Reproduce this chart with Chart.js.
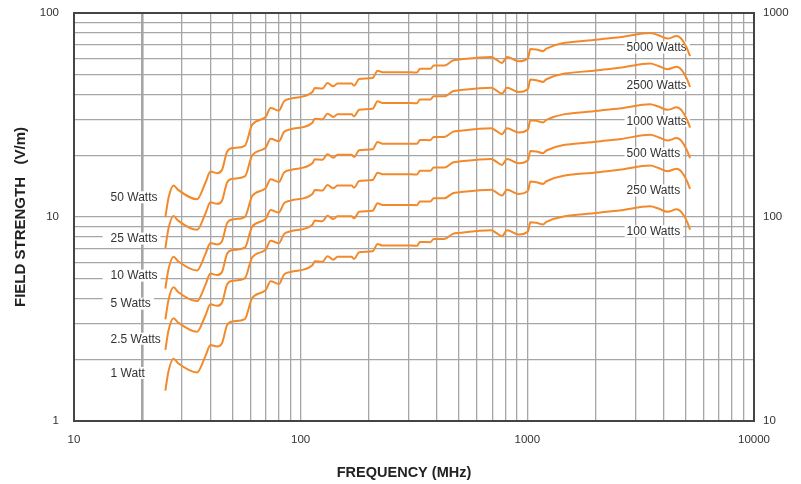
<!DOCTYPE html>
<html>
<head>
<meta charset="utf-8">
<script src="https://cdn.jsdelivr.net/npm/chart.js@4.4.1/dist/chart.umd.min.js"></script>
<style>
  html, body { margin: 0; padding: 0; background: #fff; }
  #wrap { width: 801px; height: 484px; }
</style>
</head>
<body>
<div id="wrap"><canvas id="fieldchart" width="801" height="484"></canvas></div>
<script>
// frequency points (MHz), shared by all curves
const freqMHz = [25.3, 26.1, 27.5, 28.8, 34.9, 38, 40, 42.8, 45, 47.4, 50.2, 56.7, 61.1, 70, 73.7, 80.2, 84.4, 90.3,
  112.7, 115.3, 124.8, 131.3, 139.5, 145.3, 167.6, 172.1, 181.1, 207.7, 218.5, 229.9, 306.6, 326, 336, 373.3, 386.5,
  430.6, 469.2, 501.7, 693, 729, 772.7, 813.5, 915.3, 1007, 1031, 1096, 1173, 1214, 2055, 2605, 3477, 3787, 4151,
  4563, 4802, 5052, 5225];

// field strength in V/m (left axis)
const field1W = [1.41, 1.75, 2.02, 1.92, 1.73, 2.08, 2.36, 2.32, 2.41, 2.96, 3.08, 3.16, 4.01, 4.37, 4.84, 4.70, 5.22, 5.38,
  5.80, 6.07, 6.03, 6.42, 6.18, 6.38, 6.38, 6.23, 6.71, 6.79, 7.38, 7.24, 7.24, 7.22, 7.54, 7.53, 7.81,
  7.81, 8.27, 8.36, 8.61, 8.36, 8.05, 8.61, 8.20, 8.51, 9.43, 9.36, 9.19, 9.47, 10.49, 10.8, 11.3, 11.0, 10.6,
  10.9, 10.5, 9.54, 8.68];
const field2_5W = [2.23, 2.77, 3.19, 3.04, 2.74, 3.29, 3.73, 3.67, 3.81, 4.68, 4.87, 5.00, 6.34, 6.91, 7.65, 7.43, 8.25, 8.51,
  9.17, 9.60, 9.53, 10.15, 9.77, 10.09, 10.09, 9.85, 10.61, 10.74, 11.67, 11.45, 11.45, 11.42, 11.92, 11.91, 12.35,
  12.35, 13.08, 13.22, 13.61, 13.22, 12.73, 13.61, 12.97, 13.46, 14.91, 14.80, 14.53, 14.97, 16.59, 17.08, 17.87, 17.39, 16.76,
  17.23, 16.60, 15.08, 13.72];
const field5W = [3.15, 3.91, 4.52, 4.29, 3.87, 4.65, 5.28, 5.19, 5.39, 6.62, 6.89, 7.07, 8.97, 9.77, 10.82, 10.51, 11.67, 12.03,
  12.97, 13.57, 13.48, 14.36, 13.82, 14.27, 14.27, 13.93, 15.00, 15.18, 16.50, 16.19, 16.19, 16.14, 16.86, 16.84, 17.46,
  17.46, 18.49, 18.69, 19.25, 18.69, 18.00, 19.25, 18.34, 19.03, 21.09, 20.93, 20.55, 21.18, 23.46, 24.15, 25.27, 24.60, 23.70,
  24.37, 23.48, 21.33, 19.41];
const field10W = [4.46, 5.53, 6.39, 6.07, 5.47, 6.58, 7.46, 7.34, 7.62, 9.36, 9.74, 9.99, 12.68, 13.82, 15.31, 14.86, 16.51, 17.01,
  18.34, 19.20, 19.07, 20.30, 19.54, 20.18, 20.18, 19.70, 21.22, 21.47, 23.34, 22.89, 22.89, 22.83, 23.84, 23.81, 24.70,
  24.70, 26.15, 26.44, 27.23, 26.44, 25.46, 27.23, 25.93, 26.91, 29.82, 29.60, 29.06, 29.95, 33.17, 34.15, 35.73, 34.79, 33.52,
  34.47, 33.20, 30.17, 27.45];
const field25W = [7.05, 8.75, 10.1, 9.6, 8.65, 10.4, 11.8, 11.6, 12.05, 14.8, 15.4, 15.8, 20.05, 21.85, 24.2, 23.5, 26.1, 26.9,
  29.0, 30.35, 30.15, 32.1, 30.9, 31.9, 31.9, 31.15, 33.55, 33.95, 36.9, 36.2, 36.2, 36.1, 37.7, 37.65, 39.05,
  39.05, 41.35, 41.8, 43.05, 41.8, 40.25, 43.05, 41.0, 42.55, 47.15, 46.8, 45.95, 47.35, 52.45, 54.0, 56.5, 55.0, 53.0,
  54.5, 52.5, 47.7, 43.4];
const field50W = [9.97, 12.37, 14.28, 13.58, 12.23, 14.71, 16.69, 16.40, 17.04, 20.93, 21.78, 22.34, 28.35, 30.90, 34.22, 33.23, 36.91, 38.04,
  41.01, 42.92, 42.64, 45.40, 43.70, 45.11, 45.11, 44.05, 47.45, 48.01, 52.18, 51.19, 51.19, 51.05, 53.32, 53.25, 55.23,
  55.23, 58.48, 59.11, 60.88, 59.11, 56.92, 60.88, 57.98, 60.18, 66.68, 66.19, 64.98, 66.96, 74.18, 76.37, 79.90, 77.78, 74.95,
  77.08, 74.25, 67.46, 61.38];

const leftWatts = ["1 Watt", "2.5 Watts", "5 Watts", "10 Watts", "25 Watts", "50 Watts"];
const rightWatts = ["100 Watts", "250 Watts", "500 Watts", "1000 Watts", "2500 Watts", "5000 Watts"];

const xTickLabels = [10, 100, 1000, 10000];
const yTickLabels = [1, 10, 100];
const y2TickLabels = [10, 100, 1000];

// where the watt labels sit, in data units
const leftLabelFreq = 14.5;
const leftLabelField = [1.72, 2.53, 3.76, 5.16, 7.84, 12.5];
const rightLabelFreq = 2740;
const rightLabelField = [85.2, 135, 205, 296, 443, 677];

const allFields = [field1W, field2_5W, field5W, field10W, field25W, field50W];
const ORANGE = "#f28a2b";
const GRID = "#a6a6a6";
const TEXT = "#333333";
const FONT = "'Liberation Sans', Arial, Helvetica, sans-serif";

const logGrid = (lo, hi) => {
  const t = [];
  for (let d = lo; d < hi; d *= 10) {
    for (let m = 1; m < 10; m++) t.push(m * d);
  }
  t.push(hi);
  return t;
};

// no extra room for the end labels, the frame is fixed
const noPad = (s) => {
  s.paddingTop = 0;
  s.paddingBottom = 0;
  s.paddingLeft = 0;
  s.paddingRight = 0;
};

const wattLabels = {
  id: "wattLabels",
  beforeDatasetsDraw(chart) {
    const { ctx, scales } = chart;
    ctx.save();
    ctx.font = "12px " + FONT;
    ctx.textBaseline = "middle";
    ctx.textAlign = "left";
    const put = (text, px, py, padL, padR) => {
      const w = ctx.measureText(text).width;
      ctx.fillStyle = "#ffffff";
      ctx.fillRect(px - padL, py - 6, w + padL + padR, 12);
      ctx.fillStyle = TEXT;
      ctx.fillText(text, px, py + 0.5);
    };
    leftWatts.forEach((t, i) => {
      put(t, scales.x.getPixelForValue(leftLabelFreq), scales.y.getPixelForValue(leftLabelField[i]), 8, 3);
    });
    rightWatts.forEach((t, i) => {
      put(t, scales.x.getPixelForValue(rightLabelFreq), scales.y2.getPixelForValue(rightLabelField[i]), 2, 3);
    });
    // frame
    const a = chart.chartArea;
    ctx.strokeStyle = "#444444";
    ctx.lineWidth = 2;
    ctx.strokeRect(a.left, a.top, a.right - a.left, a.bottom - a.top);
    ctx.restore();
  },
  afterDraw(chart) {
    const { ctx } = chart;
    ctx.save();
    ctx.font = "bold 14.5px " + FONT;
    ctx.fillStyle = "#222";
    ctx.textAlign = "center";
    ctx.textBaseline = "middle";
    ctx.fillText("FREQUENCY (MHz)", 404, 473);
    ctx.restore();
  },
};

const ctx = document.getElementById("fieldchart");

new Chart(ctx, {
  type: "line",
  data: {
    datasets: allFields.map((vals, i) => ({
      label: leftWatts[i] + " / " + rightWatts[i],
      data: freqMHz.map((f, j) => ({ x: f, y: vals[j] })),
      borderColor: ORANGE,
      borderWidth: 2,
      pointRadius: 0,
      cubicInterpolationMode: "monotone",
      fill: false,
    })),
  },
  options: {
    responsive: false,
    animation: false,
    devicePixelRatio: 1,
    layout: { padding: { top: 13, left: 0, right: 0, bottom: 0 } },
    plugins: {
      legend: { display: false },
      tooltip: { enabled: false },
    },
    scales: {
      x: {
        type: "logarithmic",
        min: 10,
        max: 10000,
        afterBuildTicks: (s) => { s.ticks = logGrid(10, 10000).map((v) => ({ value: v })); },
        afterFit: (s) => { s.height = 63; noPad(s); },
        grid: {
          color: GRID,
          lineWidth: (c) => (c.tick && c.tick.value === 20 ? 2.6 : 1.3),
          drawTicks: false,
        },
        border: { display: false },
        ticks: {
          autoSkip: false,
          maxRotation: 0,
          padding: 12,
          color: TEXT,
          font: { family: FONT, size: 11.5 },
          callback: (v) => (xTickLabels.includes(v) ? String(v) : ""),
        },
      },
      y: {
        type: "logarithmic",
        position: "left",
        min: 1,
        max: 100,
        afterBuildTicks: (s) => { s.ticks = logGrid(1, 100).map((v) => ({ value: v })); },
        afterFit: (s) => { s.width = 74; noPad(s); },
        grid: { color: GRID, lineWidth: 1.3, drawTicks: false },
        border: { display: false },
        ticks: {
          autoSkip: false,
          padding: 15,
          color: TEXT,
          font: { family: FONT, size: 11.5 },
          callback: (v) => (yTickLabels.includes(v) ? String(v) : ""),
        },
        title: {
          display: true,
          text: "FIELD STRENGTH   (V/m)",
          color: "#222",
          font: { family: FONT, size: 15, weight: "bold" },
          padding: { top: 12, bottom: 0 },
        },
      },
      y2: {
        type: "logarithmic",
        position: "right",
        min: 10,
        max: 1000,
        afterBuildTicks: (s) => { s.ticks = logGrid(10, 1000).map((v) => ({ value: v })); },
        afterFit: (s) => { s.width = 47; noPad(s); },
        grid: { drawOnChartArea: false, drawTicks: false },
        border: { display: false },
        ticks: {
          autoSkip: false,
          padding: 9,
          color: TEXT,
          font: { family: FONT, size: 11.5 },
          callback: (v) => (y2TickLabels.includes(v) ? String(v) : ""),
        },
      },
    },
  },
  plugins: [wattLabels],
});
</script>
</body>
</html>
